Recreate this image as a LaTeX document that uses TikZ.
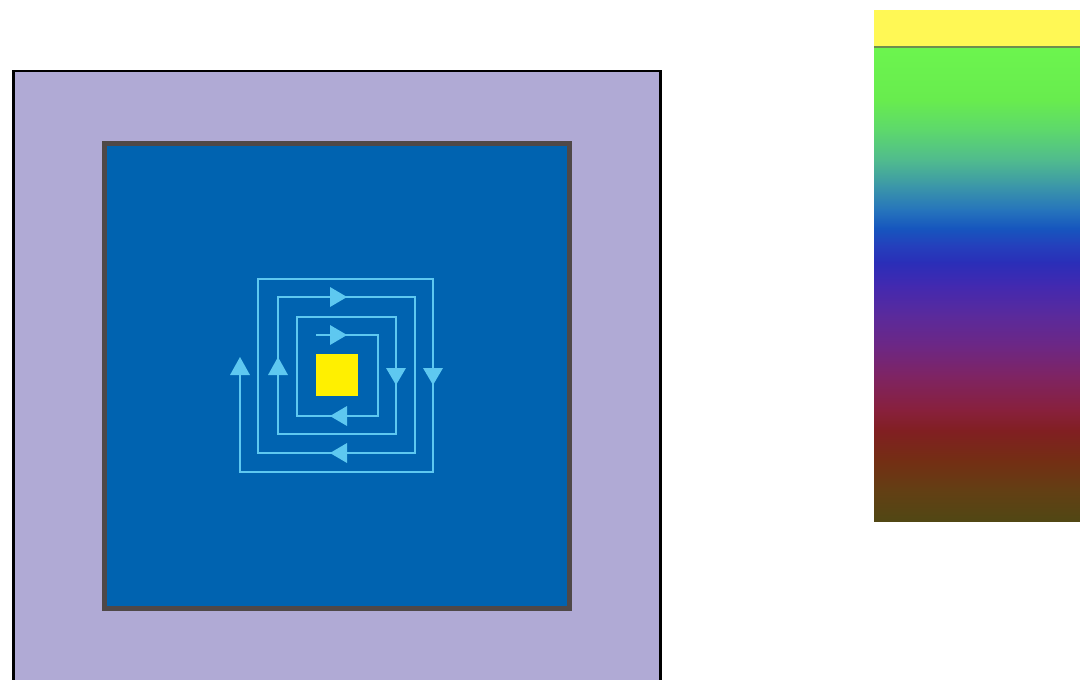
\documentclass[tikz,border=0pt]{standalone}
\definecolor{lav}{HTML}{B0AAD5}
\definecolor{bluefill}{HTML}{0063B0}
\definecolor{bordergray}{HTML}{4F4848}
\definecolor{sky}{HTML}{5EC8F0}
\definecolor{yel}{HTML}{FFF000}
\definecolor{ytop}{HTML}{FFF855}
\definecolor{sep}{HTML}{6E8E4E}
\definecolor{g1}{HTML}{6CF54E}
\definecolor{g2}{HTML}{68EC4E}
\definecolor{g3}{HTML}{5DD86C}
\definecolor{g4}{HTML}{50BB8E}
\definecolor{g5}{HTML}{3C98A8}
\definecolor{g6}{HTML}{2674BC}
\definecolor{g7}{HTML}{1656BE}
\definecolor{g8}{HTML}{2440BC}
\definecolor{g9}{HTML}{2A2EB8}
\definecolor{g10}{HTML}{4229B0}
\definecolor{g11}{HTML}{5A2A9C}
\definecolor{g12}{HTML}{6C2785}
\definecolor{g13}{HTML}{7E2464}
\definecolor{g14}{HTML}{88203C}
\definecolor{g15}{HTML}{811F22}
\definecolor{g16}{HTML}{742E14}
\definecolor{g17}{HTML}{633F14}
\definecolor{g18}{HTML}{514714}
\tikzset{
  spiral/.style={draw=sky, line width=1.5pt},
  tip/.style={fill=sky},
}
\begin{document}
\begin{tikzpicture}[x=0.75pt,y=-0.75pt]
\useasboundingbox (0,0) rectangle (1080,679);
\clip (0,0) rectangle (1080,679);
% outer lavender box
\draw[fill=lav, draw=black, line width=1.8pt] (13.5,71) rectangle (660.3,700);
% inner blue box
\draw[fill=bluefill, draw=bordergray, line width=3.4pt] (104.5,143.5) rectangle (569.5,608.5);
% yellow square
\node[fill=yel, inner sep=0pt, minimum width=31.5pt, minimum height=31.5pt] (core) at (337,375) {};
% spiral
\draw[spiral] (316,335) -- (378,335) -- (378,416) -- (297,416) -- (297,317) -- (396,317)
  -- (396,434) -- (278,434) -- (278,297) -- (415,297) -- (415,453) -- (258,453)
  -- (258,279) -- (433,279) -- (433,472) -- (240,472) -- (240,372);
% arrowheads
\fill[tip] (347,335) -- (330,325) -- (330,345) -- cycle;
\fill[tip] (347,297) -- (330,287) -- (330,307) -- cycle;
\fill[tip] (396,385) -- (386,368) -- (406,368) -- cycle;
\fill[tip] (433,385) -- (423,368) -- (443,368) -- cycle;
\fill[tip] (330,416) -- (347,406) -- (347,426) -- cycle;
\fill[tip] (330,453) -- (347,443) -- (347,463) -- cycle;
\fill[tip] (278,357) -- (268,375) -- (288,375) -- cycle;
\fill[tip] (240,357) -- (230,375) -- (250,375) -- cycle;
% gradient bar
\fill[ytop] (874,10) rectangle (1080,46);
\shade[top color=g1,bottom color=g2] (874,46) rectangle (1080,100.5);
\shade[top color=g2,bottom color=g3] (874,100) rectangle (1080,130.5);
\shade[top color=g3,bottom color=g4] (874,130) rectangle (1080,160.5);
\shade[top color=g4,bottom color=g5] (874,160) rectangle (1080,185.5);
\shade[top color=g5,bottom color=g6] (874,185) rectangle (1080,210.5);
\shade[top color=g6,bottom color=g7] (874,210) rectangle (1080,228.5);
\shade[top color=g7,bottom color=g8] (874,228) rectangle (1080,245.5);
\shade[top color=g8,bottom color=g9] (874,245) rectangle (1080,262.5);
\shade[top color=g9,bottom color=g10] (874,262) rectangle (1080,285.5);
\shade[top color=g10,bottom color=g11] (874,285) rectangle (1080,315.5);
\shade[top color=g11,bottom color=g12] (874,315) rectangle (1080,345.5);
\shade[top color=g12,bottom color=g13] (874,345) rectangle (1080,375.5);
\shade[top color=g13,bottom color=g14] (874,375) rectangle (1080,410.5);
\shade[top color=g14,bottom color=g15] (874,410) rectangle (1080,430.5);
\shade[top color=g15,bottom color=g16] (874,430) rectangle (1080,460.5);
\shade[top color=g16,bottom color=g17] (874,460) rectangle (1080,490.5);
\shade[top color=g17,bottom color=g18] (874,490) rectangle (1080,521);
\draw[sep, line width=1.6pt] (874,47) -- (1080,47);
\end{tikzpicture}
\end{document}
